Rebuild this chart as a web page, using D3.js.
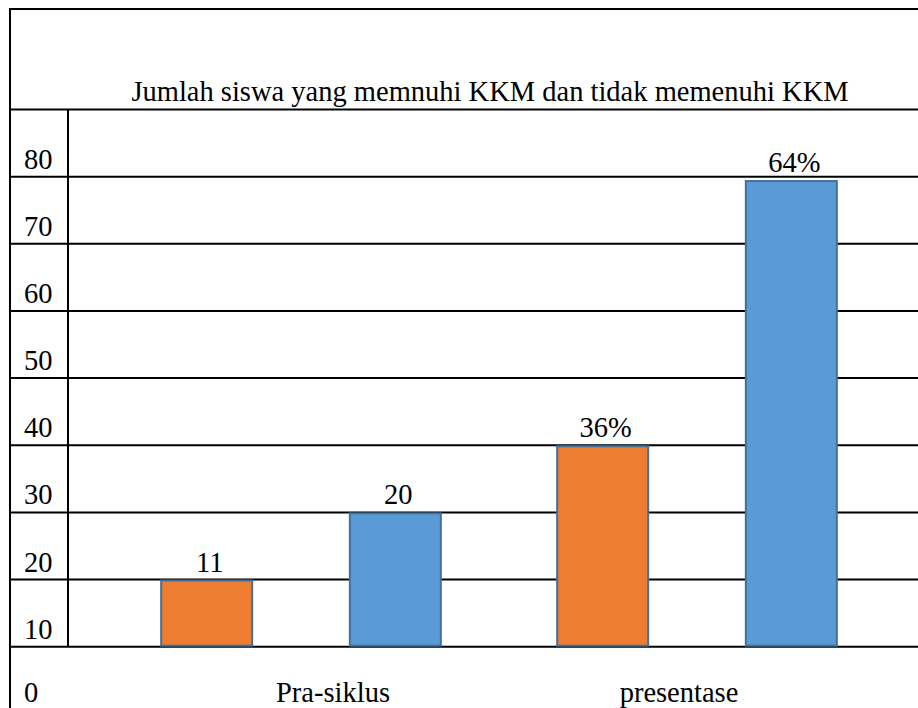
<!DOCTYPE html>
<html>
<head>
<meta charset="utf-8">
<script src="https://cdn.jsdelivr.net/npm/d3@7"></script>
<style>
  body { margin: 0; background: #fff; }
</style>
</head>
<body>
<div id="chart"></div>
<script>
// data
const categories = ["Pra-siklus", "presentase"];
const seriesNames = ["tidak memenuhi KKM", "memenuhi KKM"];
const seriesColors = ["#ED7D31", "#5B9BD5"];
// bar tops as drawn on the value axis (bars rise from 10)
const barTops = [[20, 30], [40, 79.5]];
const barLabels = [["11", "20"], ["36%", "64%"]];
const tickValues = [0, 10, 20, 30, 40, 50, 60, 70, 80];
const gridValues = [10, 20, 30, 40, 50, 60, 70, 80, 90];
const title = "Jumlah siswa yang memnuhi KKM dan tidak memenuhi KKM";

const width = 918;
const height = 708;
const fontSize = 28.5;
const fontFamily = '"Liberation Serif"';

const svg = d3.select("#chart")
    .append("svg")
    .attr("width", width)
    .attr("height", height);

// value scale: 10 units = one table row
const y = d3.scaleLinear([0, 80], [713.8, 176.7]);

// group and bar scales
const x0 = d3.scaleBand(categories, [103, 895]).padding(0);
const x1 = d3.scaleBand([0, 1], [0, x0.bandwidth()])
    .paddingInner(0.507)
    .paddingOuter(0.303);

// frame: top and left border
svg.append("line")
    .attr("x1", 10).attr("x2", width)
    .attr("y1", 9).attr("y2", 9)
    .attr("stroke", "#000").attr("stroke-width", 2);
svg.append("line")
    .attr("x1", 10).attr("x2", 10)
    .attr("y1", 8).attr("y2", height)
    .attr("stroke", "#000").attr("stroke-width", 2);

// horizontal rules
svg.append("g")
    .selectAll("line")
    .data(gridValues)
    .join("line")
    .attr("x1", 10).attr("x2", width)
    .attr("y1", d => y(d)).attr("y2", d => y(d))
    .attr("stroke", "#000").attr("stroke-width", 2);

// vertical rule next to the value labels
svg.append("line")
    .attr("x1", 68).attr("x2", 68)
    .attr("y1", y(90)).attr("y2", y(10))
    .attr("stroke", "#000").attr("stroke-width", 2);

// title
svg.append("text")
    .attr("x", 490)
    .attr("y", y(90) - 9)
    .attr("text-anchor", "middle")
    .attr("font-size", fontSize)
    .style("font-family", fontFamily)
    .text(title);

// value labels, sitting just above their rule
svg.append("g")
    .selectAll("text")
    .data(tickValues)
    .join("text")
    .attr("x", 24)
    .attr("y", d => d === 0 ? y(d) - 12 : y(d) - 8)
    .attr("font-size", fontSize)
    .style("font-family", fontFamily)
    .text(d => d);

// bars
const groups = svg.append("g")
    .selectAll("g")
    .data(categories)
    .join("g")
    .attr("transform", d => `translate(${x0(d)},0)`);

groups.selectAll("rect")
    .data((d, i) => barTops[i].map((v, j) => ({ v, j })))
    .join("rect")
    .attr("x", d => x1(d.j) + 1)
    .attr("width", x1.bandwidth() - 2)
    .attr("y", d => y(d.v) + 1)
    .attr("height", d => y(10) - y(d.v) - 2)
    .attr("fill", d => seriesColors[d.j])
    .attr("stroke", "#41719C")
    .attr("stroke-width", 2);

groups.selectAll("text.lbl")
    .data((d, i) => barTops[i].map((v, j) => ({ v, j, t: barLabels[i][j] })))
    .join("text")
    .attr("class", "lbl")
    .attr("x", d => x1(d.j) + x1.bandwidth() / 2 + 3)
    .attr("y", d => y(d.v) - 8)
    .attr("text-anchor", "middle")
    .attr("font-size", fontSize)
    .style("font-family", fontFamily)
    .text(d => d.t);

// category labels (Word placed them a little off the group centres)
const catShift = [32, -18];
svg.append("g")
    .selectAll("text")
    .data(categories)
    .join("text")
    .attr("x", (d, i) => x0(d) + x0.bandwidth() / 2 + catShift[i])
    .attr("y", y(0) - 12)
    .attr("text-anchor", "middle")
    .attr("font-size", fontSize)
    .style("font-family", fontFamily)
    .text(d => d);
</script>
</body>
</html>
